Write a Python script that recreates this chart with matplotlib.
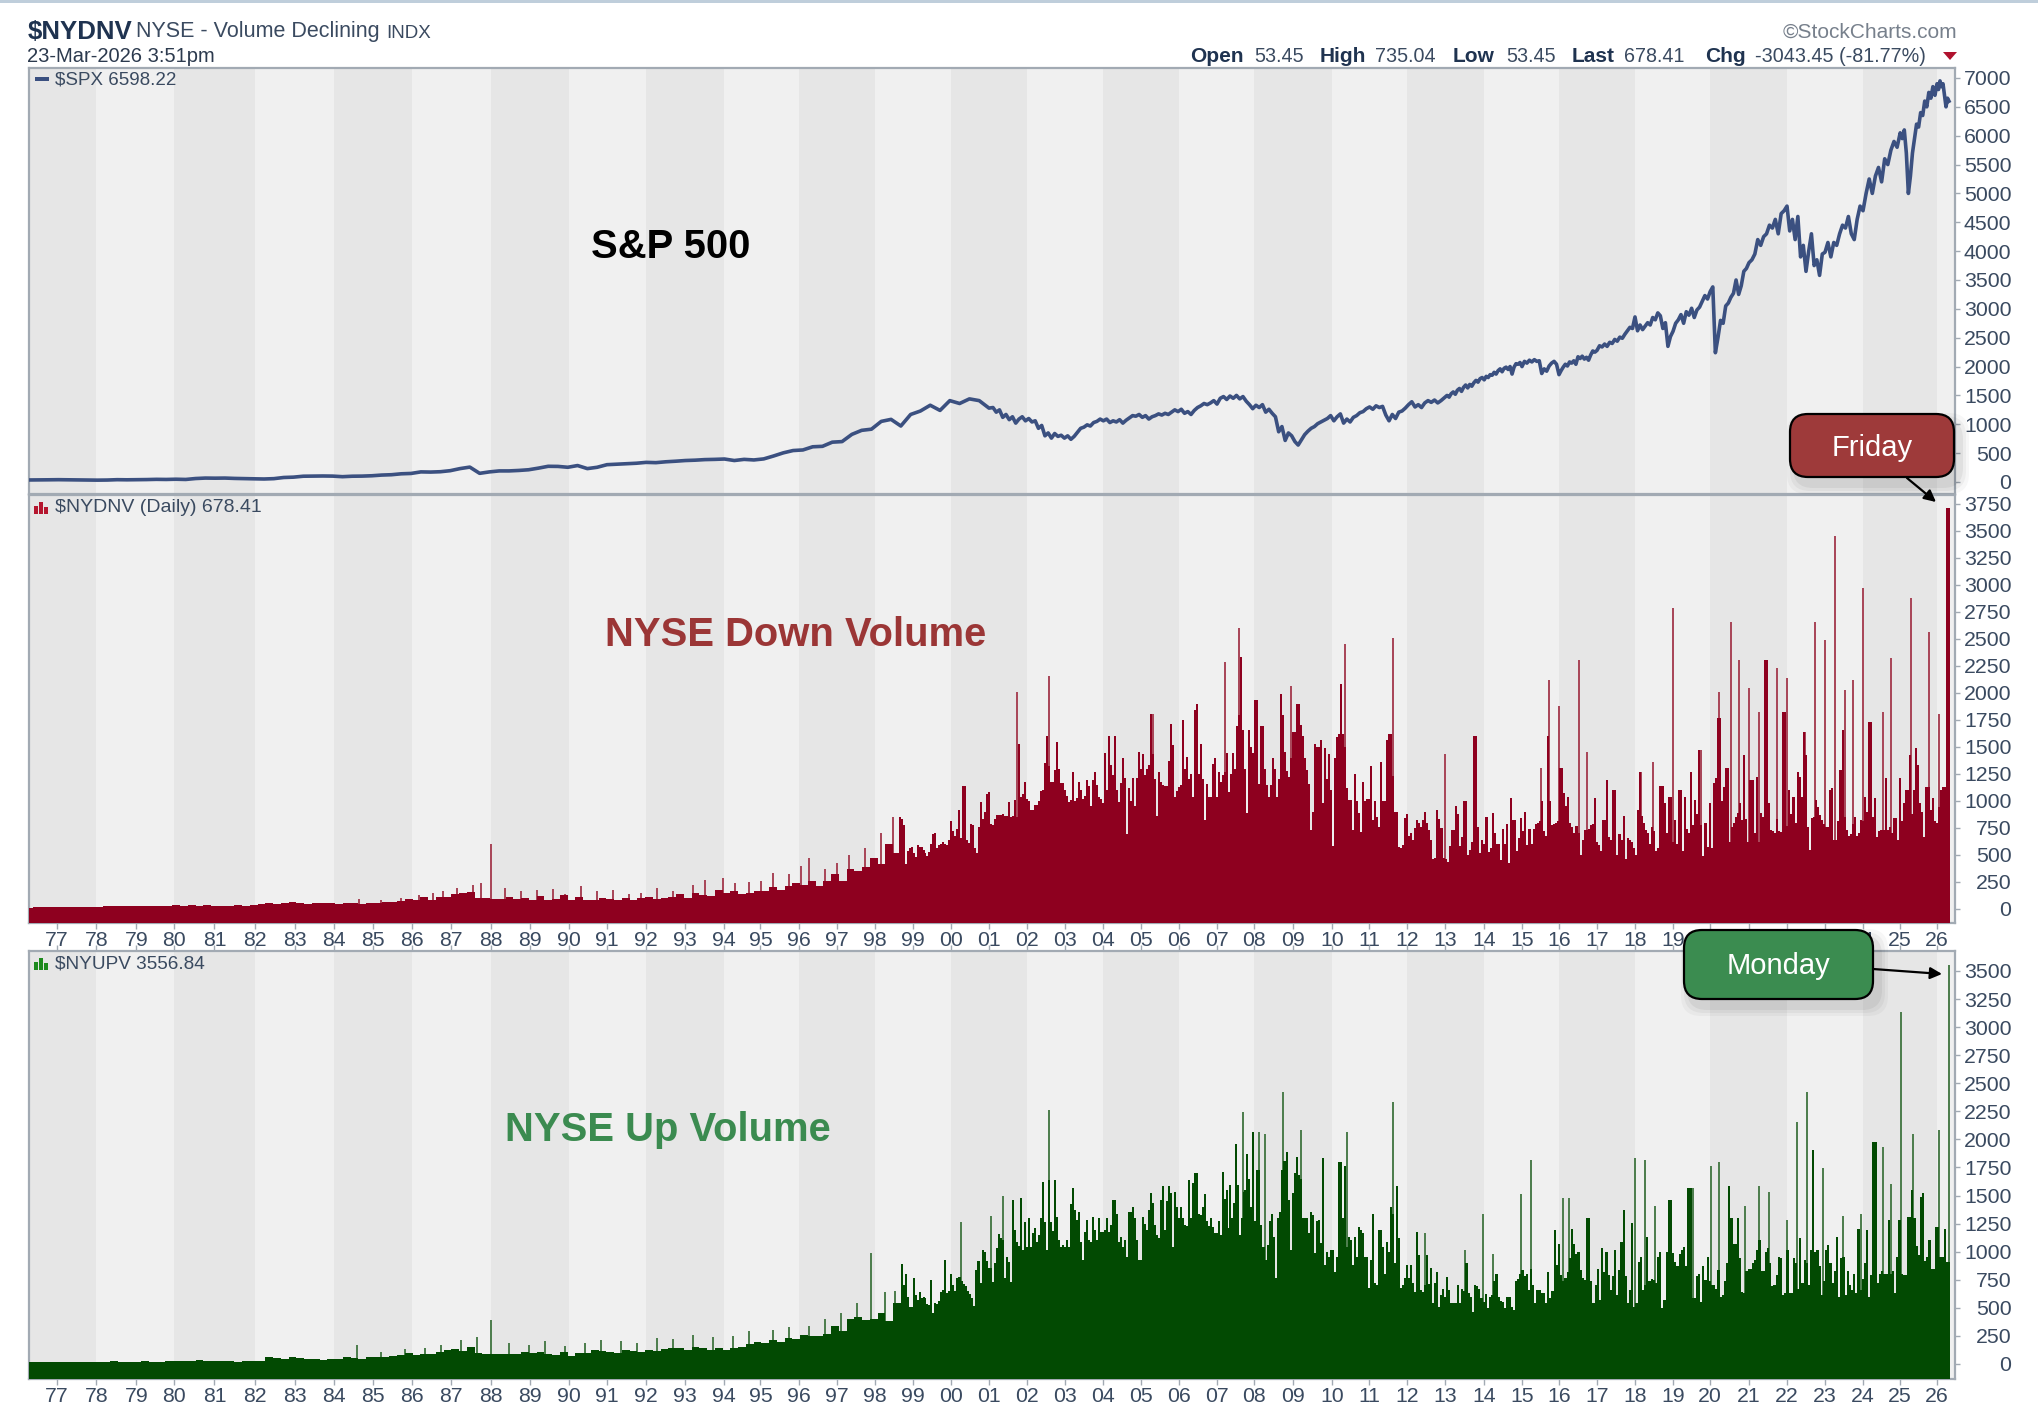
import numpy as np
import matplotlib
matplotlib.use("Agg")
import matplotlib.pyplot as plt
from matplotlib.patches import FancyBboxPatch, Rectangle, Polygon

plt.rcParams['font.family'] = ['Liberation Sans', 'DejaVu Sans']

# ---------- calendar (bar number on which each year starts) ----------
year_labels = ['77','78','79','80','81','82','83','84','85','86','87','88','89','90','91','92','93','94','95','96','97','98','99',
               '00','01','02','03','04','05','06','07','08','09','10','11','12','13','14','15','16','17','18','19','20','21','22','23','24','25','26']
year_bars = [14.1,33.6,53.7,72.6,92.7,112.9,133,152.5,172,191.5,211,231,250.6,270,289,308.5,328,347.5,365.7,385,404,423,442,
             461,480,499,518,537,556,575,594,612.6,632,651.6,670,689,708,727.6,746.5,765,784,803,822,840.6,860,879,898,917,935.6,954]

# ---------- S&P 500 ----------
spx_early = [35,36,38,40,38,36,35,32,34,40,38,40,42,46,44,48,44,60,68,66,68,62,58,55,52,58,78,
             84,100,102,104,102,92,100,102,108,120,126,142,148,175,172,178,196,232,258,150,175,192,192,200,212,240,272,270,
             255,285,232,255,300,308,315,325,340,335,350,360,372,378,388,392,398,372,392,382,400,450,505,545,555,610,618,690,
             700,825,895,915,1050,1085,970,1170,1230,1330,1240,1410,1360,1440,1410,1280]
spx_mid = [1290,1210,1250,1120,1170,1080,1130,1020,1090,
           1130,1060,1100,1040,1060,930,980,800,850,760,840,790,810,
           760,800,740,790,860,930,950,990,970,1030,1050,
           1090,1060,1090,1030,1060,1040,1080,1020,1070,1110,1150,
           1140,1170,1120,1150,1090,1130,1150,1180,1160,1190,1170,
           1210,1250,1220,1260,1190,1220,1170,1240,1290,1320,1360,1340,
           1370,1410,1350,1450,1480,1430,1490,1450,1500,1440,1480,
           1400,1340,1270,1330,1290,1340,1210,1260,1190,1130,870,960,720,850,
           800,700,640,730,820,880,930,960,1010,1040,1070,
           1100,1150,1060,1130,1180,1020,1090,1040,1120,1150,1200,1220,
           1270,1300,1260,1320,1290,1310,1160,1060,1170,1100,1210,1230,
           1280,1340,1390,1300,1340,1290,1370,1410,1380,1420,1370,1410]
spx_2013 = [1470,1500,1470,1530,1560,1520,1590,1620,1570,1640,1680,1630,1690,1660,1720,1760,1730,1790,1810]
spx_2014 = [1770,1830,1810,1860,1850,1900,1870,1930,1960,1910,1970,1990,1950,2000,1870,1990,2050,2040,2070]
spx_2015 = [2000,2090,2060,2110,2080,2120,2090,2100,1880,1960,1920,2010,2060,2090,2040]
spx_2016 = [1860,1930,1990,2040,2010,2080,2060,2100,2040,2170,2140,2180,2130,2160,2110,2200,2270,2250]
spx_2017 = [2280,2360,2340,2390,2350,2420,2400,2470,2440,2510,2490,2560,2620,2680,2660]
spx_2018 = [2860,2620,2720,2640,2700,2760,2720,2850,2810,2930,2880,2660,2760,2350,2520]
spx_2019 = [2610,2750,2810,2900,2750,2950,2890,3010,2850,2980,3030,3130,3230,3170]
spx_2020 = [3300,3380,2240,2500,2800,2750,3050,3100,3200,3270,3500,3250,3400,3650,3700]
spx_2021 = [3800,3850,3950,4200,4100,4250,4300,4450,4400,4550,4300,4650,4700]
spx_2022 = [4780,4350,4550,4200,4600,3900,4100,3650,4000,4300,3750,3850,3580,3950]
spx_2023 = [3980,4150,3900,4150,4100,4300,4450,4400,4600,4300,4200,4550,4780]
spx_2024 = [4700,5000,5250,5000,5300,5450,5200,5600,5500,5750,5900,5800]
spx_2025 = [6050,5950,6100,5700,5000,5300,5700,5950,6200,6150,6400,6350,6600,6500,6750,6650,6850,6700]
spx_2026 = [6900,6800,6950,6850,6900,6700,6500,6650,6598]

# ---------- NYSE down volume ----------
down_early = [12,14,14,16,18,20,20,18,20,22,25,24,26,24,26,28,24,26,30,34,30,36,32,34,30,28,32,34,32,36,42,55,48,
              52,62,55,50,52,58,52,50,55,52,50,54,58,66,60,70,95,85,110,80,115,110,135,150,160,105,100,95,95,110,
              95,105,85,120,80,95,125,85,110,85,80,100,95,85,105,85,100,110,95,105,115,135,105,150,125,
              120,180,145,165,135,150,170,165,200,180,210,245,225,255,215,255,320,255,370,350,390,470,420,600,520]
down_1999 = [850,830,780,420,540,560,570,520,480,590,570,570,550,520,490,530,600,690,700,560,590,600,620,600,590,640]
down_2000 = [810,720,680,740,915,660,1140,1140,640,610,790,780,560,520,760,990,830,900,1060,1080]
down_2001 = [790,780,830,870,870,870,880,860,860,990,850,860,1010,850,1530,1040,1060,1180,1020]
down_2002 = [1000,915,920,960,960,1000,1090,1100,1350,1600,1320,1180,1180,1290,1550,1300,1170,1170,1100]
down_2003 = [1050,990,1010,1270,1000,1030,1180,1100,1020,1050,1190,1140,950,1190,1270,1150,1040,1020,980]
down_2004 = [1440,1100,1600,1330,1240,1600,1100,990,1170,1395,1210,690,1117,1000,1210,950,1210,1457,1300]
down_2005 = [1435,1240,1300,1330,1805,1435,1200,860,1270,1180,1150,1140,1140,1370,1712,1520,1040,1090,1130]
down_2006 = [1150,1750,1300,1410,1200,1250,1040,1840,1900,1250,1527,1200,825,1157,1040,1040,1342,1395,1040]
down_2007 = [1270,1180,1240,1270,1440,1086,1250,1440,1300,1690,1796,2336,1657,1300,885,1657,1500,1440]
down_2008 = [1935,1935,1160,1694,1694,1300,1150,1040,1150,1400,1300,1040,1200,1987,1796,1450,1280,1225,1400,1640]
down_2009 = [1640,1895,1895,1700,1600,1400,1290,1160,730,900,1527,1503,1503,1565,980,1487,1200,1435,1100]
down_2010 = [583,1400,1595,1620,2080,1620,1500,1117,1010,1010,730,1250,1000,885,716,1180,1000,1020,1020]
down_2011 = [1324,825,1000,850,762,1364,1000,1000,1565,1620,1620,1231,900,900,577,560,590,840,880,680,700,640,750,820,800]
down_late = [760,824,900,800,730,640,460,470,917,830,750,470,460,438,580,730,730,950,880,580,670,1000,1000,500,550,620,1600,1600,
             760,520,640,600,850,530,560,890,700,600,600,450,745,600,784,423,1030,820,820,540,660,840,720,895,590,745,600,740,790,800,810,
             1000,720,680,1600,1000,780,790,800,810,1302,1302,1071,950,1040,800,760,700,770,700,500,640,730,730,740,780,790,1025,620,590,540,
             820,820,1194,670,640,1102,1102,500,690,640,860,460,660,640,620,560,500,917,1270,860,800,730,700,600,760,720,540,560,1139,1139,
             980,700,1040,1040,620,820,600,1102,1102,540,1040,740,700,1270,780,1010,880,1472,780,490,800,570,978,560,1163,1210,1765,1765,
             1000,1133,1302,1302,620,760,800,850,890,980,820,1426,830,620,1194,1194,700,1225,620,890,850,2305,2305,980,730,720,700,830,720,710,
             1827,1827,770,1100,880,1040,800,1270,1225,1040,1642,1426,760,546,840,850,1009,947,870,820,790,760,760,1100,1117,640,640,810,1287,
             1657,850,730,680,690,790,855,680,700,820,810,1040,900,1735,1735,855,1025,670,720,730,731,1210,731,760,700,840,840,640,1210,810,978,
             1102,1102,1426,880,1102,1487,1333,978,900,670,1133,1133,920,1025,812,800,947,1102,1133,1133,3710,3710]
down_spike_bars = [165,176,186,195,202,207,214,222,226,231,238,246,254,262,268,276,284,292,300,306,314,322,332,338,347,353,360,366,372,380,386,390,398,404,410,418,426,432,
                   494,510,562,577,584,598,605,631,658,682,708,756,760,765,775,779,806,812,822,836,
                   845,851,855,860,865,874,879,888,893,898,903,908,912,917,927,931,941,950,955]
down_spike_vals = [90,85,100,130,150,170,190,220,240,604,190,170,175,185,140,210,165,180,140,145,190,170,225,270,290,240,250,260,330,320,400,470,370,430,500,560,700,855,
                   2010,2157,1805,1750,1900,2290,2600,2065,2454,2506,1435,1302,2120,1880,2305,1457,1270,1364,2784,1472,
                   2012,2660,2305,2043,1827,2228,2136,1642,2660,2490,3453,2028,2120,2969,1827,2321,2876,2561,1805]

# ---------- NYSE up volume ----------
up_early = [14,14,14,18,18,15,18,15,15,20,18,24,20,20,18,24,20,20,30,26,24,30,34,26,30,24,26,20,24,26,30,65,50,
            48,60,55,45,40,38,42,45,60,55,46,60,65,58,68,80,95,78,85,85,110,125,135,118,155,100,92,90,85,92,
            85,105,95,110,85,80,110,72,95,100,125,115,108,100,125,115,108,125,115,130,145,138,120,155,145,
            128,138,120,145,155,175,195,185,215,195,235,225,260,245,250,270,340,290,400,420,390,400,450,380,540]
up_1999 = [525,887,703,800,600,510,510,762,614,570,638,590,600,590,530,525,748,451,540,530,560,644,660,926,630,650]
up_2000 = [800,700,650,762,777,740,712,690,650,620,590,516,837,920,720,1015,1000,920,852]
up_2001 = [852,733,900,1030,1157,1120,1104,762,955,911,733,1460,1193,1089,1050,1480,1015,1267,1044]
up_2002 = [1297,1044,1163,1208,1089,1150,1297,1623,1267,1015,1638,1267,1180,1638,1311,1100,1040,1060,1044]
up_2003 = [1100,1044,1424,1564,1370,1282,1350,1089,926,1178,1282,1100,1089,1311,1190,1100,1297,1178,1178]
up_2004 = [1190,1297,1178,1240,1460,1460,1340,1089,1130,1044,1100,950,1356,1356,1400,1297,1100,926,926]
up_2005 = [1311,1250,1190,1370,1519,1430,1240,1150,1120,1460,1585,1190,1450,1585,1520,1044,1528,1400,1300]
up_2006 = [1400,1300,1240,1225,1638,1297,1608,1697,1697,1340,1325,1400,1510,1270,1230,1297,1220,1170,1170]
up_2007 = [1270,1150,1712,1470,1549,1210,1593,1297,1430,1955,1593,1150,1300,1534,1550,1869,1650,1400,2062]
up_2008 = [1270,1730,1730,1240,1044,926,1060,1270,1340,1130,762,1300,1350,1730,1806,1890,1460,1015,1520]
up_2009 = [1700,1846,1680,1650,1297,1297,1297,1170,1356,1330,985,1270,1280,1080,1831,881,1000,955,1015]
up_2010 = [1015,822,955,1801,1801,1297,1763,1044,1130,1100,881,1130,955,1220,1190,1170,950,950,674]
up_2011 = [926,1335,720,705,1190,1190,1044,800,1089,1000,1400,1340,900,1585,1120,674,700,770,880]
up_2012 = [770,880,720,645,1172,970,660,644,700,970,710,852,540,720,822,510,615,670,600]
up_late = [777,660,540,540,540,700,540,670,650,900,630,600,466,700,690,670,585,555,620,495,600,615,735,800,600,560,550,495,600,600,510,480,
           735,760,800,840,780,800,660,850,700,540,660,660,630,630,540,822,585,650,1193,880,1068,790,735,770,822,940,1200,1068,980,1000,840,765,750,
           1297,1297,735,540,700,850,570,1030,822,1000,790,660,780,1015,615,840,1089,1371,780,540,660,1252,510,540,911,950,660,700,1134,735,760,750,720,
           950,1000,495,570,1000,1460,1460,990,911,870,980,1015,1045,870,1564,1564,585,585,780,800,555,870,750,950,740,700,700,670,840,600,615,735,900,
           1585,1297,1068,1068,1297,940,645,630,830,850,850,900,925,1015,1104,830,830,1000,1030,900,690,700,790,950,940,615,630,1015,630,630,940,900,670,
           1120,720,930,900,700,1015,1905,1000,1015,870,615,735,1015,1060,900,720,830,1130,600,940,955,615,830,700,660,800,630,1200,660,760,900,1193,600,790,
           1979,1979,720,800,830,800,800,1282,800,830,630,950,1282,800,790,790,1312,1312,1549,1300,1050,970,1490,1520,920,950,1100,850,850,1222,1222,950,950,1200,910,910]
up_spike_bars = [164,176,188,198,206,216,224,231,240,250,258,268,278,286,296,304,314,322,332,342,352,360,372,380,390,398,406,414,421,428,433,
                 466,481,487,510,607,615,618,627,636,659,682,698,718,727,732,746,751,767,770,803,808,813,832,841,845,858,865,870,879,884,889,897,907,916,927,931,936,942,955,960]
up_spike_vals = [170,110,130,145,170,210,240,393,190,170,200,160,190,215,200,190,230,220,260,240,250,290,300,330,340,400,450,540,984,640,650,
                 1261,1317,1495,2261,2240,2062,2047,2418,2083,2062,2330,1169,1015,1335,979,1513,1816,1475,1475,1831,1816,1406,1564,1763,1801,1406,1585,1528,1282,2151,2418,1742,1318,1332,1935,1599,3136,2047,2083,3557]

# ---------- styles ----------
DARK, LIGHT = '#E6E6E6', '#F0F0F0'
SPINE = '#A2AAB3'
TXT = '#3A4A60'
W, H = 2038, 1428
LEFT, RIGHT = 29, 1955
XMAX = (RIGHT - LEFT) / 2.0
fig = plt.figure(figsize=(W / 100, H / 100), dpi=100, facecolor='white')


def make_axes(top, bottom, ylim, yticks):
    ax = fig.add_axes([LEFT / W, 1 - bottom / H, (RIGHT - LEFT) / W, (bottom - top) / H])
    ax.set_xlim(0, XMAX)
    ax.set_ylim(*ylim)
    ax.set_facecolor(DARK)
    even = year_bars[1::2]
    for i, b in enumerate(even):
        if i % 2 == 0:
            nxt = even[i + 1] if i + 1 < len(even) else XMAX
            ax.axvspan(b, nxt, color=LIGHT, lw=0, zorder=0)
    ax.axvspan(even[-1], XMAX, color=LIGHT, lw=0, zorder=0)
    ax.yaxis.tick_right()
    ax.set_yticks(yticks)
    ax.tick_params(axis='y', length=3.6, width=1, color=SPINE, labelcolor=TXT, labelsize=15.3, pad=37)
    for t in ax.get_yticklabels():
        t.set_ha('right')
    for s in ax.spines.values():
        s.set_color(SPINE)
        s.set_linewidth(1.6)
    ax.set_xticks([])
    return ax


def segment(ax, start, end, values, color, y0):
    vals = np.array(values, dtype=float)
    xs = np.linspace(start, end, len(vals))
    w = (end - start) / (len(vals) - 1) * 1.03
    ax.bar(xs, vals - y0, width=w, bottom=y0, color=color, lw=0, zorder=3)


def year_axis(ax):
    ax.set_xticks(year_bars)
    ax.set_xticklabels(year_labels)
    ax.tick_params(axis='x', length=4, width=1, color=SPINE, labelcolor=TXT, labelsize=15.3, pad=2)


# panel 1
ax1 = make_axes(68, 494, (-208, 7173), list(range(0, 7001, 500)))
spx_years = [spx_2013, spx_2014, spx_2015, spx_2016, spx_2017, spx_2018, spx_2019,
             spx_2020, spx_2021, spx_2022, spx_2023, spx_2024, spx_2025]
xs_parts = [np.linspace(0, 480, len(spx_early)), np.linspace(482, 706, len(spx_mid))]
vals_parts = [spx_early, spx_mid]
first = year_labels.index('13')
for k, yr in enumerate(spx_years):
    xs_parts.append(np.linspace(year_bars[first + k], year_bars[first + k + 1], len(yr), endpoint=False))
    vals_parts.append(yr)
xs_parts.append(np.linspace(year_bars[-1], 960, len(spx_2026)))
vals_parts.append(spx_2026)
ax1.plot(np.concatenate(xs_parts), np.concatenate(vals_parts), color='#3B5080', lw=2.6, solid_joinstyle='round', zorder=3)

# panel 2
y02 = -130
ax2 = make_axes(495, 923, (y02, 3833), list(range(0, 3751, 250)))
ax2.bar(down_spike_bars, np.array(down_spike_vals) - y02, width=0.85, bottom=y02, color='#A9485A', lw=0, zorder=2)
segment(ax2, 0, 434, down_early, '#8E001F', y02)
segment(ax2, 435.5, 460, down_1999, '#8E001F', y02)
segment(ax2, 461, 480, down_2000, '#8E001F', y02)
segment(ax2, 481, 499, down_2001, '#8E001F', y02)
segment(ax2, 500, 518, down_2002, '#8E001F', y02)
segment(ax2, 519, 537, down_2003, '#8E001F', y02)
segment(ax2, 538, 556, down_2004, '#8E001F', y02)
segment(ax2, 557, 575, down_2005, '#8E001F', y02)
segment(ax2, 576, 594, down_2006, '#8E001F', y02)
segment(ax2, 595, 612, down_2007, '#8E001F', y02)
segment(ax2, 613, 632, down_2008, '#8E001F', y02)
segment(ax2, 633, 651, down_2009, '#8E001F', y02)
segment(ax2, 652, 670, down_2010, '#8E001F', y02)
segment(ax2, 671, 695, down_2011, '#8E001F', y02)
segment(ax2, 696, 960, down_late, '#8E001F', y02)
year_axis(ax2)

# panel 3
y03 = -134
ax3 = make_axes(951, 1379, (y03, 3678), list(range(0, 3501, 250)))
ax3.bar(up_spike_bars, np.array(up_spike_vals) - y03, width=0.85, bottom=y03, color='#4F7F4F', lw=0, zorder=2)
segment(ax3, 0, 434, up_early, '#024A02', y03)
segment(ax3, 435.5, 460, up_1999, '#024A02', y03)
segment(ax3, 461, 480, up_2000, '#024A02', y03)
segment(ax3, 481, 499, up_2001, '#024A02', y03)
segment(ax3, 500, 518, up_2002, '#024A02', y03)
segment(ax3, 519, 537, up_2003, '#024A02', y03)
segment(ax3, 538, 556, up_2004, '#024A02', y03)
segment(ax3, 557, 575, up_2005, '#024A02', y03)
segment(ax3, 576, 594, up_2006, '#024A02', y03)
segment(ax3, 595, 612, up_2007, '#024A02', y03)
segment(ax3, 613, 632, up_2008, '#024A02', y03)
segment(ax3, 633, 651, up_2009, '#024A02', y03)
segment(ax3, 652, 670, up_2010, '#024A02', y03)
segment(ax3, 671, 689, up_2011, '#024A02', y03)
segment(ax3, 690, 708, up_2012, '#024A02', y03)
segment(ax3, 709, 960, up_late, '#024A02', y03)
year_axis(ax3)
ax3.tick_params(axis='x', top=True)

# overlay in pixel coordinates for page furniture
ov = fig.add_axes([0, 0, 1, 1], zorder=10)
ov.set_xlim(0, W)
ov.set_ylim(H, 0)
ov.axis('off')
ov.add_patch(Rectangle((0, 0), W, 2.5, color='#BFCEDB', lw=0))


def T(x, y, s, size=14.5, weight='normal', color=TXT, ha='left', va='center'):
    ov.text(x, y, s, fontsize=size, fontweight=weight, color=color, ha=ha, va=va)


T(28, 32, '$NYDNV', 18.6, 'bold', '#1F3350')
T(136, 32, 'NYSE - Volume Declining', 15.5)
T(386, 33, 'INDX', 13.5)
T(27, 57, '23-Mar-2026 3:51pm', 14.5, color='#2C3A4E')
T(1957, 32, '\u00a9StockCharts.com', 15, color='#77808C', ha='right')
for x, s, w in [(1190, 'Open', 'bold'), (1254, '53.45', 'normal'), (1320, 'High', 'bold'), (1375, '735.04', 'normal'),
                (1453, 'Low', 'bold'), (1506, '53.45', 'normal'), (1572, 'Last', 'bold'), (1624, '678.41', 'normal'),
                (1705, 'Chg', 'bold'), (1755, '-3043.45 (-81.77%)', 'normal')]:
    T(x, 56, s, 15 if w == 'bold' else 14.2, w, '#1F3350' if w == 'bold' else TXT)
ov.add_patch(Polygon([[1943, 52], [1957, 52], [1950, 60]], color='#B0122E', lw=0))

# panel legends
ov.add_patch(Rectangle((35, 77), 14, 3.5, color='#3B5080', lw=0))
T(55, 80, '$SPX 6598.22', 13.5)
for dx, h in [(0, 8), (5, 12), (10, 7)]:
    ov.add_patch(Rectangle((34 + dx, 514 - h), 4, h, color='#B5162F', lw=0))
T(55, 508, '$NYDNV (Daily) 678.41', 14)
for dx, h in [(0, 8), (5, 12), (10, 7)]:
    ov.add_patch(Rectangle((34 + dx, 970 - h), 4, h, color='#1E8A1E', lw=0))
T(55, 964, '$NYUPV 3556.84', 13.7)

# big titles
T(591, 247, 'S&P 500', 28.8, 'bold', 'black')
T(605, 635, 'NYSE Down Volume', 28.8, 'bold', '#9B3636')
T(505, 1130, 'NYSE Up Volume', 28.8, 'bold', '#3B8B50')


def callout(x0, y0, x1, y1, color, label):
    for grow, a in [(9, 0.03), (6, 0.04), (3, 0.05)]:
        ov.add_patch(FancyBboxPatch((x0 + 6 - grow, y0 + 8 - grow), x1 - x0 + 2 * grow, y1 - y0 + 2 * grow,
                                    boxstyle='round,pad=0,rounding_size=20', fc='black', ec='none', alpha=a))
    ov.add_patch(FancyBboxPatch((x0, y0), x1 - x0, y1 - y0, boxstyle='round,pad=0,rounding_size=18',
                                fc=color, ec='black', lw=1.6))
    ov.text((x0 + x1) / 2, (y0 + y1) / 2 + 2, label, color='white', fontsize=21, ha='center', va='center')


callout(1790, 414, 1954, 477, '#9E3A3A', 'Friday')
callout(1684, 930, 1873, 999, '#3B8C50', 'Monday')
arrow = dict(arrowstyle='-|>,head_length=0.7,head_width=0.35', color='black', lw=1.6, shrinkA=0, shrinkB=0)
ov.annotate('', xy=(1936, 502), xytext=(1907, 478), arrowprops=arrow)
ov.annotate('', xy=(1942, 974), xytext=(1873, 969), arrowprops=arrow)

fig.savefig('out.png', dpi=100)
